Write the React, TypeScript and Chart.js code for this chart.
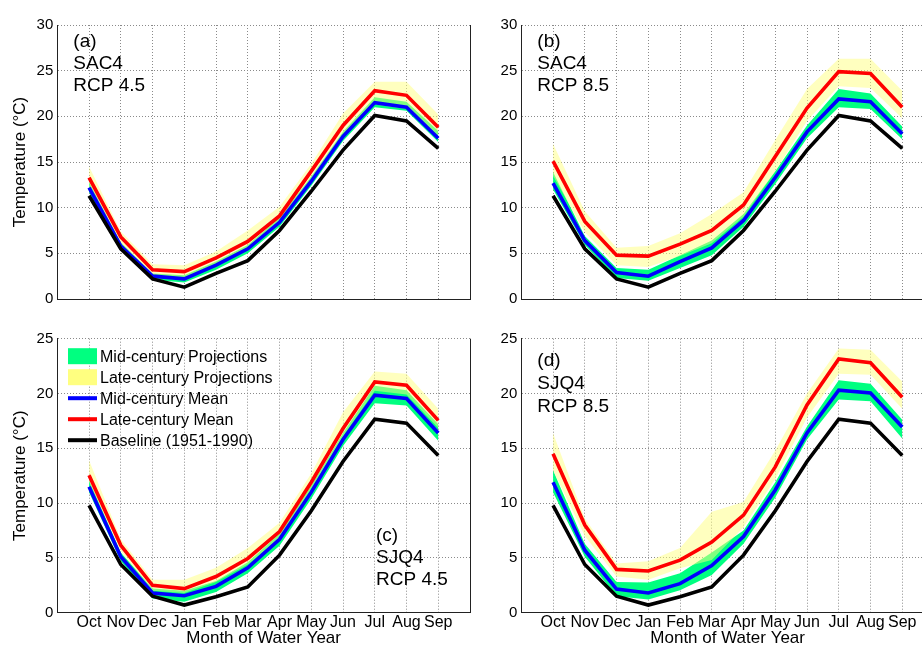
import React, { useEffect, useRef } from "react";
import { Chart, registerables } from "chart.js";

Chart.register(...registerables);

// Water-year months and their positions on the x axis
const MONTHS = ["Oct", "Nov", "Dec", "Jan", "Feb", "Mar", "Apr", "May", "Jun", "Jul", "Aug", "Sep"];
const MONTH_POS = [1, 2, 3, 4, 5, 6, 7, 8, 9, 10, 11, 12];
const Y_MAX_SAC = 30;
const Y_MAX_SJQ = 25;
const Y_STEP = 5;

// Baselines (1951-1990), monthly mean temperature in °C
const baseSAC = [11.3, 5.5, 2.2, 1.3, 2.8, 4.2, 7.5, 11.8, 16.3, 20.1, 19.5, 16.5];
const baseSJQ = [9.8, 4.4, 1.5, 0.7, 1.45, 2.35, 5.25, 9.3, 13.8, 17.65, 17.3, 14.35];

// (a) SAC4, RCP 4.5
const midMeanA = [12.2, 5.8, 2.5, 2.2, 3.7, 5.5, 8.4, 12.9, 17.8, 21.5, 21.0, 17.6];
const lateMeanA = [13.3, 6.8, 3.2, 3.0, 4.5, 6.3, 9.1, 14.0, 19.0, 22.8, 22.3, 18.8];
const midLoA = [11.7, 5.4, 2.1, 1.8, 3.2, 5.0, 7.9, 12.4, 17.3, 21.0, 20.6, 17.2];
const midHiA = [12.8, 6.2, 2.8, 2.6, 4.1, 5.9, 8.9, 13.4, 18.3, 22.1, 21.6, 18.4];
const lateLoA = [12.0, 5.9, 2.5, 2.3, 3.6, 5.3, 8.2, 12.8, 17.9, 21.3, 20.8, 17.9];
const lateHiA = [14.5, 7.4, 3.8, 3.7, 5.2, 7.5, 10.1, 14.8, 20.3, 23.8, 23.8, 20.2];

// (b) SAC4, RCP 8.5
const midMeanB = [12.7, 6.4, 2.9, 2.5, 4.1, 5.6, 8.6, 13.3, 18.3, 21.9, 21.6, 18.1];
const lateMeanB = [15.1, 8.5, 4.8, 4.7, 6.0, 7.5, 10.3, 15.6, 20.9, 24.9, 24.7, 21.0];
const midLoB = [12.0, 5.9, 2.3, 2.0, 3.4, 4.8, 7.9, 12.6, 17.6, 21.0, 20.8, 17.5];
const midHiB = [13.9, 6.9, 3.4, 3.2, 4.8, 6.4, 9.3, 14.0, 19.0, 23.0, 22.5, 18.9];
const lateLoB = [13.5, 7.3, 3.7, 3.5, 4.7, 6.1, 9.0, 14.0, 19.5, 23.3, 23.1, 19.8];
const lateHiB = [17.0, 9.6, 5.6, 5.8, 7.2, 9.3, 11.7, 17.4, 23.0, 26.3, 26.3, 22.8];

// (c) SJQ4, RCP 4.5
const midMeanC = [11.5, 5.1, 1.8, 1.55, 2.4, 4.1, 6.7, 11.0, 15.8, 19.85, 19.55, 16.4];
const lateMeanC = [12.55, 6.15, 2.5, 2.2, 3.3, 4.95, 7.4, 11.9, 16.8, 21.05, 20.75, 17.55];
const midLoC = [11.0, 4.7, 1.3, 1.0, 1.9, 3.6, 6.1, 10.4, 15.2, 19.1, 18.9, 15.7];
const midHiC = [12.1, 5.5, 2.2, 2.0, 2.9, 4.6, 7.2, 11.6, 16.4, 20.7, 20.3, 17.2];
const lateLoC = [11.9, 5.6, 2.0, 1.8, 2.8, 4.4, 6.8, 11.3, 16.1, 20.25, 19.9, 16.85];
const lateHiC = [13.9, 6.7, 3.0, 3.0, 4.1, 5.9, 8.2, 12.7, 18.3, 22.0, 21.8, 18.6];

// (d) SJQ4, RCP 8.5
const midMeanD = [11.9, 5.7, 2.15, 1.8, 2.65, 4.3, 6.95, 11.2, 16.4, 20.3, 20.05, 16.95];
const lateMeanD = [14.5, 8.0, 3.95, 3.8, 4.8, 6.45, 8.9, 13.3, 18.95, 23.15, 22.8, 19.65];
const midLoD = [11.0, 5.1, 1.5, 1.2, 2.05, 3.45, 6.3, 10.5, 15.8, 19.45, 19.3, 15.9];
const midHiD = [13.0, 6.3, 2.8, 2.75, 3.6, 5.5, 7.5, 11.9, 17.0, 21.2, 20.9, 17.6];
const lateLoD = [13.0, 7.0, 3.3, 3.0, 4.05, 4.8, 7.8, 12.2, 17.8, 21.8, 21.7, 18.6];
const lateHiD = [16.4, 8.6, 4.5, 4.7, 5.9, 9.2, 10.1, 14.8, 20.0, 24.1, 24.0, 21.1];

const LEGEND_LABELS = [
  "Mid-century Projections",
  "Late-century Projections",
  "Mid-century Mean",
  "Late-century Mean",
  "Baseline (1951-1990)",
];

const FONT = "'Liberation Sans', Arial, Helvetica, sans-serif";
const GREEN = "#00ff80";
const YELLOW_BAND = "rgba(255,255,128,0.5)";
const YELLOW_KEY = "#ffff80";
const BLUE = "#0000ff";
const RED = "#ff0000";
const BLACK = "#000000";
const GRID = "#8a8a8a";

type Panel = {
  tag: string;
  basin: string;
  scenario: string;
  base: number[];
  midLo: number[];
  midHi: number[];
  lateLo: number[];
  lateHi: number[];
  midMean: number[];
  lateMean: number[];
  yMax: number;
  left: number;
  top: number;
  width: number;
  height: number;
  axisWidth: number;
  axisHeight: number;
  padTop: number;
  padRight: number;
  yTitle: boolean;
  xLabels: boolean;
  legend: boolean;
  noteDx: number;
  noteLines: number[];
};

const PANELS: Panel[] = [
  {
    tag: "(a)", basin: "SAC4", scenario: "RCP 4.5",
    base: baseSAC, midLo: midLoA, midHi: midHiA, lateLo: lateLoA, lateHi: lateHiA,
    midMean: midMeanA, lateMean: lateMeanA, yMax: Y_MAX_SAC,
    left: 0, top: 0, width: 480, height: 320, axisWidth: 57.3, axisHeight: 21,
    padTop: 25, padRight: 10, yTitle: true, xLabels: false, legend: false,
    noteDx: 16, noteLines: [22, 44, 66],
  },
  {
    tag: "(b)", basin: "SAC4", scenario: "RCP 8.5",
    base: baseSAC, midLo: midLoB, midHi: midHiB, lateLo: lateLoB, lateHi: lateHiB,
    midMean: midMeanB, lateMean: lateMeanB, yMax: Y_MAX_SAC,
    left: 461, top: 0, width: 480, height: 320, axisWidth: 60.3, axisHeight: 21,
    padTop: 25, padRight: 7, yTitle: false, xLabels: false, legend: false,
    noteDx: 16, noteLines: [22, 44, 66],
  },
  {
    tag: "(c)", basin: "SJQ4", scenario: "RCP 4.5",
    base: baseSJQ, midLo: midLoC, midHi: midHiC, lateLo: lateLoC, lateHi: lateHiC,
    midMean: midMeanC, lateMean: lateMeanC, yMax: Y_MAX_SJQ,
    left: 0, top: 320, width: 480, height: 326, axisWidth: 57.3, axisHeight: 33.3,
    padTop: 18.7, padRight: 10, yTitle: true, xLabels: true, legend: true,
    noteDx: 318.7, noteLines: [202, 224, 246],
  },
  {
    tag: "(d)", basin: "SJQ4", scenario: "RCP 8.5",
    base: baseSJQ, midLo: midLoD, midHi: midHiD, lateLo: lateLoD, lateHi: lateHiD,
    midMean: midMeanD, lateMean: lateMeanD, yMax: Y_MAX_SJQ,
    left: 461, top: 320, width: 480, height: 326, axisWidth: 60.3, axisHeight: 33.3,
    padTop: 18.7, padRight: 7, yTitle: false, xLabels: true, legend: false,
    noteDx: 16, noteLines: [27, 50, 73],
  },
];

const toPoints = (values: number[]) => values.map((y, i) => ({ x: MONTH_POS[i], y }));

// Panel tag, basin/scenario note, right frame edge and the legend
const decorPlugin = {
  id: "panelDecor",
  afterDraw(chart: any, _args: any, opts: any) {
    const p: Panel = opts.panel;
    const { ctx, chartArea } = chart;
    ctx.save();
    // right frame edge
    ctx.strokeStyle = "#222";
    ctx.lineWidth = 1;
    ctx.beginPath();
    ctx.moveTo(Math.round(chartArea.right) + 0.5, chartArea.top);
    ctx.lineTo(Math.round(chartArea.right) + 0.5, chartArea.bottom);
    ctx.stroke();

    // note text
    ctx.fillStyle = "#000";
    ctx.font = `19px ${FONT}`;
    ctx.textAlign = "left";
    ctx.textBaseline = "alphabetic";
    const lines = [p.tag, p.basin, p.scenario];
    lines.forEach((t, i) => {
      ctx.fillText(t, chartArea.left + p.noteDx, chartArea.top + p.noteLines[i]);
    });

    if (p.legend) {
      const x0 = chartArea.left + 10.7;
      const x1 = chartArea.left + 39.7;
      const tx = chartArea.left + 42.7;
      ctx.font = `16px ${FONT}`;
      ctx.textBaseline = "middle";
      const kinds = [
        { box: true, color: GREEN },
        { box: true, color: YELLOW_KEY },
        { box: false, color: BLUE },
        { box: false, color: RED },
        { box: false, color: BLACK },
      ];
      LEGEND_LABELS.forEach((label, i) => {
        const cy = chartArea.top + 17.5 + 21 * i;
        const k = kinds[i];
        if (k.box) {
          ctx.fillStyle = k.color;
          ctx.fillRect(x0, cy - 8, x1 - x0, 16);
        } else {
          ctx.strokeStyle = k.color;
          ctx.lineWidth = 4;
          ctx.beginPath();
          ctx.moveTo(x0, cy);
          ctx.lineTo(x1, cy);
          ctx.stroke();
        }
        ctx.fillStyle = "#000";
        ctx.fillText(label, tx, cy + 1);
      });
    }
    ctx.restore();
  },
};

function PanelChart({ p }: { p: Panel }) {
  const ref = useRef<HTMLCanvasElement | null>(null);

  useEffect(() => {
    if (!ref.current) return;
    const line = (data: number[], color: string, order: number) => ({
      data: toPoints(data),
      borderColor: color,
      backgroundColor: color,
      borderWidth: 3.6,
      pointRadius: 0,
      fill: false,
      order,
      tension: 0,
    });
    const edge = (data: number[], order: number) => ({
      data: toPoints(data),
      borderWidth: 0,
      borderColor: "rgba(0,0,0,0)",
      pointRadius: 0,
      fill: false,
      order,
    });
    const band = (data: number[], color: string, target: number, order: number) => ({
      data: toPoints(data),
      borderWidth: 0,
      borderColor: "rgba(0,0,0,0)",
      backgroundColor: color,
      pointRadius: 0,
      fill: { target },
      order,
    });

    const chart = new Chart(ref.current, {
      type: "line",
      data: {
        datasets: [
          edge(p.midLo, 12),
          band(p.midHi, GREEN, 0, 11),
          edge(p.lateLo, 10),
          band(p.lateHi, YELLOW_BAND, 2, 9),
          line(p.midMean, BLUE, 3),
          line(p.lateMean, RED, 2),
          line(p.base, BLACK, 1),
        ] as any,
      },
      options: {
        animation: false,
        responsive: false,
        maintainAspectRatio: false,
        devicePixelRatio: 1,
        events: [],
        layout: { padding: { top: p.padTop, right: p.padRight, bottom: 0, left: 0 } },
        plugins: {
          legend: { display: false },
          tooltip: { enabled: false },
          panelDecor: { panel: p },
        } as any,
        scales: {
          x: {
            type: "linear",
            min: 0,
            max: 13,
            afterBuildTicks: (scale: any) => {
              scale.ticks = MONTH_POS.map((v) => ({ value: v }));
            },
            afterFit: (scale: any) => {
              scale.height = p.axisHeight;
            },
            grid: { color: GRID, lineWidth: 1, drawTicks: false },
            border: { display: true, color: "#222", width: 1, dash: [1, 2] },
            ticks: {
              display: p.xLabels,
              padding: 0,
              autoSkip: false,
              maxRotation: 0,
              color: "#000",
              font: { family: FONT, size: 16 },
              callback: (v: any) => {
                const i = MONTH_POS.indexOf(Number(v));
                return i >= 0 ? MONTHS[i] : "";
              },
            },
            title: {
              display: p.xLabels,
              text: "Month of Water Year",
              color: "#000",
              padding: { top: 0, bottom: 0 },
              font: { family: FONT, size: 17, lineHeight: 0.9 },
            },
          },
          y: {
            type: "linear",
            min: 0,
            max: p.yMax,
            afterFit: (scale: any) => {
              scale.width = p.axisWidth;
            },
            grid: { color: GRID, lineWidth: 1, drawTicks: false },
            border: { display: true, color: "#222", width: 1, dash: [1, 2] },
            ticks: {
              stepSize: Y_STEP,
              padding: 4,
              color: "#000",
              font: { family: FONT, size: 15 },
            },
            title: {
              display: p.yTitle,
              text: "Temperature (°C)",
              color: "#000",
              padding: { top: 10, bottom: 0 },
              font: { family: FONT, size: 17, lineHeight: 1.2 },
            },
          },
        },
      } as any,
      plugins: [decorPlugin],
    });
    return () => chart.destroy();
  }, [p]);

  return (
    <canvas
      ref={ref}
      width={p.width}
      height={p.height}
      style={{
        position: "absolute",
        left: p.left,
        top: p.top,
        width: p.width,
        height: p.height,
      }}
    />
  );
}

export default function App() {
  return (
    <div
      style={{
        position: "absolute",
        left: 0,
        top: 0,
        width: 922,
        height: 646,
        overflow: "hidden",
        background: "#fff",
      }}
    >
      {PANELS.map((p) => (
        <PanelChart key={p.tag} p={p} />
      ))}
    </div>
  );
}
